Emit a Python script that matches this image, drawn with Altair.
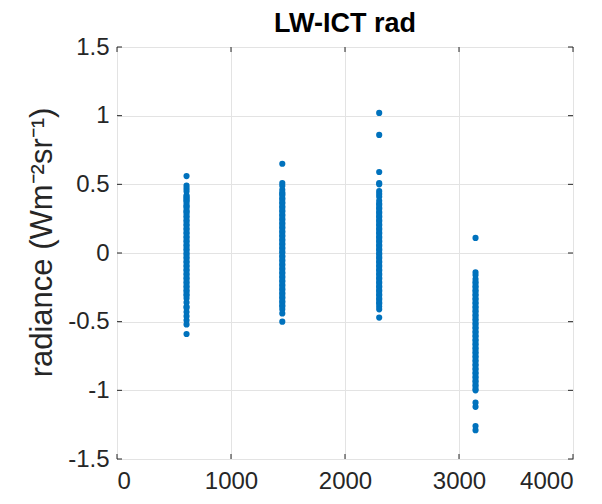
import altair as alt
import pandas as pd

title_text = "LW-ICT rad"
y_label = "radiance (Wm⁻²sr⁻¹)"
x_ticks = [0, 1000, 2000, 3000, 4000]
y_ticks = [-1.5, -1, -0.5, 0, 0.5, 1, 1.5]

col_x = [610, 1450, 2300, 3145]

col1 = [0.56, 0.49, 0.47, 0.45, 0.42, 0.41, 0.40, 0.39, 0.38, 0.37, 0.35, 0.34,
        0.33, 0.31, 0.30, 0.29, 0.27, 0.26, 0.24, 0.23, 0.21, 0.20, 0.18, 0.17,
        0.15, 0.14, 0.12, 0.11, 0.09, 0.08, 0.06, 0.05, 0.03, 0.02, 0.00, -0.01,
        -0.03, -0.04, -0.06, -0.07, -0.09, -0.10, -0.12, -0.13, -0.15, -0.16,
        -0.18, -0.19, -0.21, -0.22, -0.24, -0.25, -0.27, -0.28, -0.30, -0.31,
        -0.33, -0.36, -0.39, -0.40, -0.43, -0.46, -0.49, -0.52, -0.59]

col2 = [0.65, 0.51, 0.49, 0.46, 0.44, 0.43, 0.42, 0.40, 0.39, 0.37, 0.36, 0.34,
        0.33, 0.31, 0.30, 0.28, 0.27, 0.25, 0.24, 0.22, 0.21, 0.19, 0.18, 0.16,
        0.15, 0.13, 0.12, 0.10, 0.09, 0.07, 0.06, 0.04, 0.03, 0.01, 0.00, -0.02,
        -0.03, -0.05, -0.06, -0.08, -0.09, -0.11, -0.12, -0.14, -0.15, -0.17,
        -0.18, -0.20, -0.21, -0.23, -0.24, -0.26, -0.27, -0.29, -0.30, -0.32,
        -0.33, -0.35, -0.36, -0.38, -0.39, -0.41, -0.44, -0.50]

col3 = [1.02, 0.86, 0.59, 0.51, 0.50, 0.45, 0.43, 0.41, 0.38, 0.36, 0.35, 0.33,
        0.32, 0.30, 0.29, 0.27, 0.26, 0.24, 0.23, 0.21, 0.20, 0.18, 0.17, 0.15,
        0.14, 0.12, 0.11, 0.09, 0.08, 0.06, 0.05, 0.03, 0.02, 0.00, -0.01, -0.03,
        -0.04, -0.06, -0.07, -0.09, -0.10, -0.12, -0.13, -0.15, -0.16, -0.18,
        -0.19, -0.21, -0.22, -0.24, -0.25, -0.27, -0.28, -0.30, -0.31, -0.33,
        -0.34, -0.36, -0.37, -0.39, -0.41, -0.47]

col4 = [0.11, -0.14, -0.16, -0.19, -0.21, -0.22, -0.24, -0.25, -0.27, -0.28,
        -0.30, -0.31, -0.33, -0.34, -0.36, -0.37, -0.39, -0.40, -0.42, -0.43,
        -0.45, -0.46, -0.48, -0.49, -0.51, -0.52, -0.54, -0.55, -0.57, -0.58,
        -0.60, -0.61, -0.63, -0.64, -0.66, -0.67, -0.69, -0.70, -0.72, -0.73,
        -0.75, -0.76, -0.78, -0.79, -0.81, -0.82, -0.84, -0.85, -0.87, -0.88,
        -0.90, -0.91, -0.93, -0.94, -0.96, -0.97, -0.99, -1.00, -1.09, -1.12,
        -1.26, -1.29]

rows = []
for cx, vals in zip(col_x, [col1, col2, col3, col4]):
    for v in vals:
        rows.append({"x": cx, "y": v})
df = pd.DataFrame(rows)

W, H = 456, 412
FONT = "Liberation Sans"
TXT = "#262626"
xs = alt.Scale(domain=[0, 4000], nice=False, zero=False)
ys = alt.Scale(domain=[-1.5, 1.5], nice=False, zero=False)

x_axis = alt.Axis(values=x_ticks, title=None, grid=True, ticks=False,
                  domain=False, labelPadding=10, labelExpr="datum.value + ''")
y_axis = alt.Axis(values=y_ticks, title=y_label, grid=True, ticks=False,
                  domain=False, labelPadding=8, labelExpr="datum.value + ''",
                  titleX=-66, titleY=195, titleBaseline="alphabetic")

points = alt.Chart(df).mark_circle(size=38, color="#0072BD", opacity=1).encode(
    x=alt.X("x:Q", scale=xs, axis=x_axis),
    y=alt.Y("y:Q", scale=ys, axis=y_axis),
)

ytick_df = pd.DataFrame({"y": y_ticks})
xtick_df = pd.DataFrame({"x": x_ticks})

tick_color = "#262626"
yt_left = alt.Chart(ytick_df).mark_rule(color=tick_color, strokeWidth=1).encode(
    y=alt.Y("y:Q", scale=ys, axis=y_axis), x=alt.value(0), x2=alt.value(5))
yt_right = alt.Chart(ytick_df).mark_rule(color=tick_color, strokeWidth=1).encode(
    y=alt.Y("y:Q", scale=ys, axis=y_axis), x=alt.value(W - 5), x2=alt.value(W))
xt_bottom = alt.Chart(xtick_df).mark_rule(color=tick_color, strokeWidth=1).encode(
    x=alt.X("x:Q", scale=xs, axis=x_axis), y=alt.value(H - 5), y2=alt.value(H))
xt_top = alt.Chart(xtick_df).mark_rule(color=tick_color, strokeWidth=1).encode(
    x=alt.X("x:Q", scale=xs, axis=x_axis), y=alt.value(0), y2=alt.value(5))

chart = alt.layer(points, yt_left, yt_right, xt_bottom, xt_top).properties(
    width=W, height=H,
    title=alt.TitleParams(title_text, fontSize=27, fontWeight="bold", font=FONT,
                          color="#000000", offset=-3, anchor="middle"),
    autosize=alt.AutoSizeParams(type="none"),
    padding={"left": 109, "top": 39, "right": 21, "bottom": 37},
).configure_view(
    stroke="#4d4d4d", strokeWidth=1
).configure_axis(
    gridColor="#e3e3e3", gridWidth=1,
    labelFont=FONT, labelFontSize=24, labelColor=TXT,
    titleFont=FONT, titleFontSize=31, titleFontWeight="normal", titleColor=TXT,
)

chart.save("out.html", embed_options={"renderer": "svg", "actions": False})
